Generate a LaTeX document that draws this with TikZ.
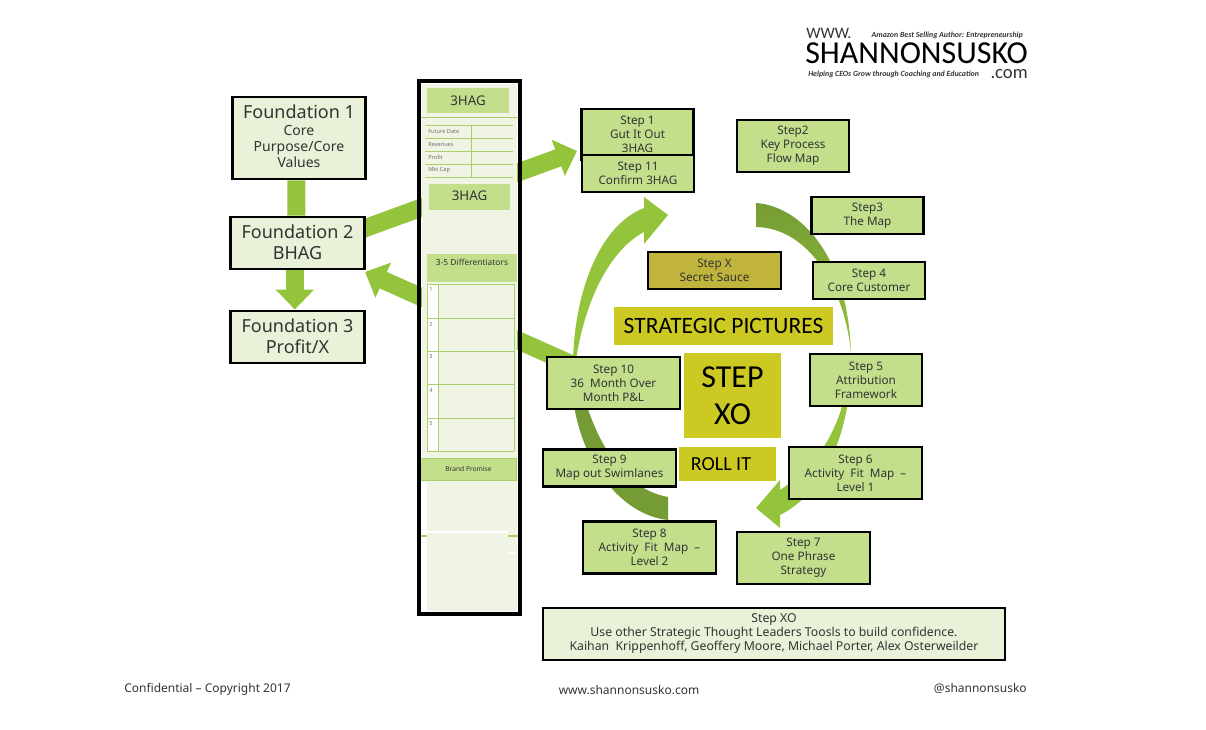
\documentclass[tikz,border=0pt]{standalone}
\usepackage{fontspec}
\setmainfont{Noto Sans}
\newfontfamily\capsfont{Carlito}
\usetikzlibrary{arrows.meta, backgrounds}
\definecolor{cgreen}{HTML}{94C43C}
\definecolor{cdark}{HTML}{759C34}
\definecolor{clight}{HTML}{C3DF8C}
\definecolor{cpale}{HTML}{E9F2D8}
\definecolor{cboard}{HTML}{EFF4E5}
\definecolor{cline}{HTML}{A9CF6E}
\definecolor{colive}{HTML}{C0B43C}
\definecolor{cyellow}{HTML}{CCCA22}
\definecolor{ctext}{HTML}{333333}
\tikzset{
  every node/.style={text=ctext, align=center, inner sep=0pt},
  stepbox/.style={draw=black, fill=clight, line width=1.9pt, font=\fontsize{8.8}{10.5}\selectfont},
  found/.style={draw=black, fill=cpale, line width=2.2pt, minimum width=100pt, minimum height=39pt},
  foundtext/.style={found, font=\fontsize{13.5}{16}\selectfont},
  label/.style={fill=cyellow, text=black, font=\capsfont},
  fat/.style={cgreen, line width=13.5pt},
  fatarrow/.style={fat, -{Triangle[length=15pt, width=28pt]}},
  band/.style={fill=clight},
  rule/.style={draw=cline, line width=.7pt},
  tiny/.style={font=\fontsize{4.2}{5}\selectfont, text=ctext!70},
  foot/.style={font=\fontsize{9}{11}\selectfont},
}
\begin{document}
\begin{tikzpicture}[x=.75pt, y=-.75pt]
  \useasboundingbox (0,0) rectangle (1206,730);
  % foundations
  \node[found, minimum height=61.5pt] (f1) at (299,138) {\fontsize{13.5}{16}\selectfont Foundation 1\\[1.2pt]\fontsize{10.5}{12}\selectfont Core\\\fontsize{10.5}{12}\selectfont Purpose/Core\\\fontsize{10.5}{12}\selectfont Values\rule[-3pt]{0pt}{0pt}};
  \node[foundtext] (f2) at (297.5,243) {\raisebox{1pt}{Foundation 2}\\\raisebox{1pt}{BHAG}};
  \node[foundtext] (f3) at (297.5,337) {\raisebox{1pt}{Foundation 3}\\\raisebox{1pt}{Profit/X}};
  % steps
  \foreach \n/\x/\y/\w/\h/\t in {
     s1/637.5/134.5/84/38.5/{Step 1\\Gut It Out\\3HAG},
     s11/638/173.5/84/28/{Step 11\\Confirm 3HAG},
     s2/793/146/84/39/{Step2\\Key Process\\Flow Map},
     s3/867.5/215.5/84/28/{Step3\\The Map},
     s4/869/280.5/84/28/{Step 4\\Core Customer},
     s5/866/380/84/39/{Step 5\\Attribution\\Framework},
     s6/855.5/473/100/39/{Step 6\\Activity~ Fit~ Map~ --\\Level 1},
     s7/803.5/558/100/39/{Step 7\\One Phrase\\Strategy},
     s8/649.5/547.5/100/39/{Step 8\\Activity~ Fit~ Map~ --\\Level 2},
     s9/609.5/468/100/28/{Step 9\\Map out Swimlanes},
     s10/613.5/383/100/39/{Step 10\\36~ Month Over\\Month P\&L}} {
    \node[stepbox, minimum width=\w pt, minimum height=\h pt] (\n) at (\x,\y) {\t};
  }
  \node[stepbox, fill=colive, minimum width=100pt, minimum height=28pt] (sx) at (714.5,270.5) {Step X\\Secret Sauce};
  % centre labels
  \node[label, minimum width=164pt, minimum height=28.5pt, font=\capsfont\fontsize{17.6}{20}\selectfont] (pictures) at (723.5,326) {STRATEGIC PICTURES};
  \node[label, minimum width=73pt, minimum height=64pt, font=\capsfont\fontsize{24}{28}\selectfont] (xo) at (732.5,395.5) {STEP\\XO};
  \node[label, minimum width=73pt, minimum height=25.5pt] (roll) at (727.5,464) {};
  \node[text=black, font=\capsfont\fontsize{15}{18}\selectfont] (rolltext) at (721,464) {ROLL IT};
  % board
  \fill[cboard] (422,84) rectangle (517,611);
  \fill[white] (422,482) rectangle (427,611);
  \node[band, minimum width=61.5pt, minimum height=18.5pt, font=\fontsize{10}{12}\selectfont] (hag1) at (468,100.5) {3HAG};
  \draw[cline, line width=1.2pt] (421,117.5) -- (519,117.5);
  \foreach \y/\t in {125/Future Date, 138/Revenues, 151/Profit, 164/Mkt Cap} {
    \draw[rule] (425,\y) -- (513,\y);
    \node[tiny, anchor=west] (row\y) at (428,\y+6.5) {\t};
  }
  \draw[rule] (425,177) -- (513,177);
  \draw[rule] (471,125) -- (471,177);
  \node[band, minimum width=61pt, minimum height=19.5pt, anchor=north] (hag2) at (469.5,184) {};
  \node[font=\fontsize{10}{12}\selectfont] (hag2text) at (469.5,196) {3HAG};
  \fill[clight] (427,254) rectangle (517,282);
  \node[font=\bfseries\fontsize{6.3}{7}\selectfont] (diff) at (472,262) {3-5 Differentiators};
  \fill[white] (427,284) rectangle (438,451);
  \foreach \y/\k in {284/1, 318/2, 351/3, 384/4, 418/5} {
    \draw[rule] (427,\y) -- (514,\y);
    \node[tiny] (num\k) at (431,\y+6) {\k};
  }
  \draw[rule] (427,451) -- (514,451);
  \draw[rule] (427,284) -- (427,451) (438,284) -- (438,451) (514,284) -- (514,451);
  \node[band, draw=cline, line width=.8pt, minimum width=72.5pt, minimum height=17pt, font=\bfseries\fontsize{5}{6}\selectfont] (brand) at (468.5,469.5) {Brand Promise};
  \draw[cline, line width=1.2pt] (421,536) -- (427,536) (508,536) -- (518,536);
  \draw[white, line width=.8pt] (427,532) -- (508,532) (508,553) -- (516,553);
  \node[draw=black, line width=2.8pt, minimum width=75.5pt, minimum height=400pt] (board) at (469.5,347.5) {};
  % arrows
  \coordinate (taila) at (360,230);
  \coordinate (tipa) at (577,151);
  \coordinate (tipb) at (365,272);
  \begin{scope}[on background layer]
    \shade[top color=cdark, bottom color=cgreen] (756,203) .. controls (800,206) and (848,255) .. (851,353)
      .. controls (845,290) and (810,228) .. (756,227) -- cycle;
    \fill[cgreen] (851,353) .. controls (853,420) and (830,490) .. (780,515) -- (780,528) -- (756,508) -- (780,480) -- (780,490)
      .. controls (818,465) and (840,430) .. (848,380) -- cycle;
    \fill[cdark] (668,497) .. controls (630,490) and (600,455) .. (582,390) -- (572,390)
      .. controls (578,460) and (620,515) .. (668,520) -- cycle;
    \fill[cgreen] (573,360) .. controls (575,290) and (600,225) .. (644,208) -- (644,197) -- (668,215) -- (644,244) -- (644,232)
      .. controls (610,250) and (585,300) .. (576,360) -- cycle;
    \draw[fat] ([xshift=-2pt]f1.south) -- ([xshift=-.8pt]f2.north);
    \draw[fatarrow] ([xshift=-2pt]f2.south) -- ([xshift=-2pt]f3.north);
    \draw[fatarrow] (taila) -- (tipa);
    \draw[fatarrow] (s10.center) -- (tipb);
  \end{scope}
  % note and footer
  \node[draw=black, fill=cpale, line width=1.6pt, minimum width=347pt, minimum height=38.5pt, font=\fontsize{9.2}{10.5}\selectfont] (note) at (774,634)
    {Step XO\\Use other Strategic Thought Leaders Toosls to build confidence.\\Kaihan~ Krippenhoff, Geoffery Moore, Michael Porter, Alex Osterweilder};
  \node[foot, anchor=west] (conf) at (124,689) {Confidential -- Copyright 2017};
  \node[foot] (web) at (629,690) {www.shannonsusko.com};
  \node[foot, anchor=east] (handle) at (1027,688) {@shannonsusko};
  % logo
  \node[anchor=west, font=\capsfont\fontsize{12}{14}\selectfont] (www) at (806,33) {WWW.};
  \node[anchor=west, text=black, font=\capsfont\fontsize{24}{28}\selectfont] (brandname) at (805,53) {SHANNONSUSKO};
  \node[anchor=east, font=\capsfont\fontsize{14}{15}\selectfont] (com) at (1028,74) {.com};
  \node[anchor=east, font=\capsfont\itshape\bfseries\fontsize{5.9}{6}\selectfont] (author) at (1023,35) {Amazon Best Selling Author: Entrepreneurship};
  \node[anchor=west, font=\capsfont\itshape\bfseries\fontsize{5.9}{6}\selectfont] (help) at (808,74) {Helping CEOs Grow through Coaching and Education};
\end{tikzpicture}
\end{document}
